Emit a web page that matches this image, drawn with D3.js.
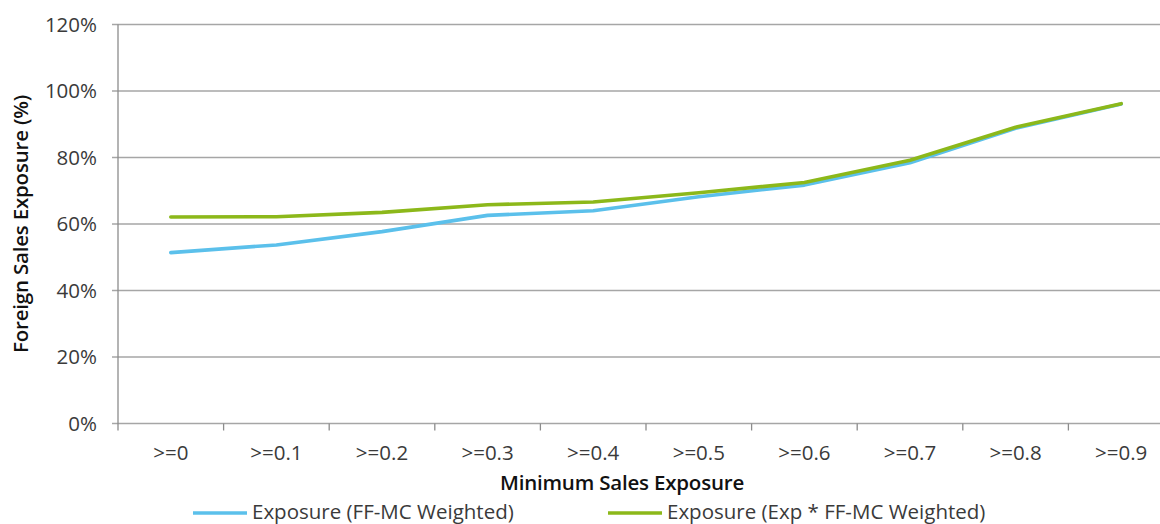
<!DOCTYPE html>
<html>
<head>
<meta charset="utf-8">
<script src="https://cdn.jsdelivr.net/npm/d3@7/dist/d3.min.js"></script>
<style>
  html, body { margin: 0; padding: 0; background: #fff; }
  svg { display: block; }
  text { font-family: "Open Sans", Lato, "DejaVu Sans", sans-serif; }
</style>
</head>
<body>
<svg id="chart" width="1160" height="524"></svg>
<script>
// Minimum sales-exposure thresholds
const categories = [">=0", ">=0.1", ">=0.2", ">=0.3", ">=0.4", ">=0.5", ">=0.6", ">=0.7", ">=0.8", ">=0.9"];
// Foreign sales exposure, FF-MC weighted
const ffmcWeighted = [0.514, 0.537, 0.577, 0.626, 0.640, 0.682, 0.717, 0.784, 0.888, 0.961];
// Foreign sales exposure, Exp * FF-MC weighted
const expFfmcWeighted = [0.621, 0.622, 0.635, 0.658, 0.666, 0.694, 0.725, 0.792, 0.891, 0.962];
const yTicks = [0, 0.2, 0.4, 0.6, 0.8, 1.0, 1.2];
const seriesNames = ["Exposure (FF-MC Weighted)", "Exposure (Exp * FF-MC Weighted)"];

(function draw() {
  const svg = d3.select("#chart");
  const W = 1160;
  const plotLeft = 118, plotRight = 1174, plotTop = 24.5, plotBottom = 423.5;

  const xBand = d3.scaleBand().domain(categories).range([plotLeft, plotRight]).paddingInner(0).paddingOuter(0);
  const x = d => xBand(d) + xBand.bandwidth() / 2;
  const y = d3.scaleLinear().domain([0, 1.2]).range([plotBottom, plotTop]);

  const gridColor = "#a6a6a6";
  const axisColor = "#8c8c8c";
  const textColor = "#3a3a3a";
  const fs = 20.5;

  // horizontal gridlines with small tick stubs left of the axis
  svg.append("g").selectAll("line").data(yTicks).join("line")
    .attr("x1", plotLeft - 6).attr("x2", W)
    .attr("y1", d => y(d)).attr("y2", d => y(d))
    .attr("stroke", gridColor).attr("stroke-width", 1.3);

  // y axis line
  svg.append("line")
    .attr("x1", plotLeft).attr("x2", plotLeft)
    .attr("y1", plotTop).attr("y2", plotBottom + 7)
    .attr("stroke", axisColor).attr("stroke-width", 1.3);

  // x axis tick marks at category boundaries
  const boundaries = categories.map(c => xBand(c)).concat([plotRight]);
  svg.append("g").selectAll("line").data(boundaries.slice(1)).join("line")
    .attr("x1", d => d).attr("x2", d => d)
    .attr("y1", plotBottom).attr("y2", plotBottom + 7)
    .attr("stroke", axisColor).attr("stroke-width", 1.3);

  // y tick labels
  svg.append("g").selectAll("text").data(yTicks).join("text")
    .attr("x", 97).attr("y", d => y(d))
    .attr("dy", "0.36em")
    .attr("text-anchor", "end")
    .attr("font-size", fs)
    .attr("fill", textColor)
    .text(d => d3.format(".0%")(d));

  // x tick labels
  svg.append("g").selectAll("text").data(categories).join("text")
    .attr("x", d => x(d)).attr("y", 460)
    .attr("text-anchor", "middle")
    .attr("font-size", fs)
    .attr("fill", textColor)
    .text(d => d);

  // axis titles
  svg.append("text")
    .attr("transform", "translate(28,224) rotate(-90)")
    .attr("text-anchor", "middle")
    .attr("font-size", fs)
    .attr("font-weight", 600)
    .attr("letter-spacing", -0.2)
    .attr("fill", "#111")
    .text("Foreign Sales Exposure (%)");

  svg.append("text")
    .attr("x", 622).attr("y", 490)
    .attr("text-anchor", "middle")
    .attr("font-size", fs)
    .attr("font-weight", 600)
    .attr("letter-spacing", -0.2)
    .attr("fill", "#111")
    .text("Minimum Sales Exposure");

  // series lines
  const colors = ["#5bc0eb", "#8cb81a"];
  const line = d3.line().x((d, i) => x(categories[i])).y(d => y(d));
  [ffmcWeighted, expFfmcWeighted].forEach((s, k) => {
    svg.append("path")
      .datum(s)
      .attr("d", line)
      .attr("fill", "none")
      .attr("stroke", colors[k])
      .attr("stroke-width", 3.6)
      .attr("stroke-linejoin", "round")
      .attr("stroke-linecap", "round");
  });

  // legend
  const legendX = [193, 608];
  const legend = svg.append("g").selectAll("g").data(seriesNames).join("g")
    .attr("transform", (d, i) => `translate(${legendX[i]},512)`);
  legend.append("line")
    .attr("x1", 0).attr("x2", 54).attr("y1", 1).attr("y2", 1)
    .attr("stroke", (d, i) => colors[i]).attr("stroke-width", 3.6);
  legend.append("text")
    .attr("x", 59).attr("y", 0).attr("dy", "0.36em")
    .attr("font-size", fs)
    .attr("fill", textColor)
    .text(d => d);
})();
</script>
</body>
</html>
